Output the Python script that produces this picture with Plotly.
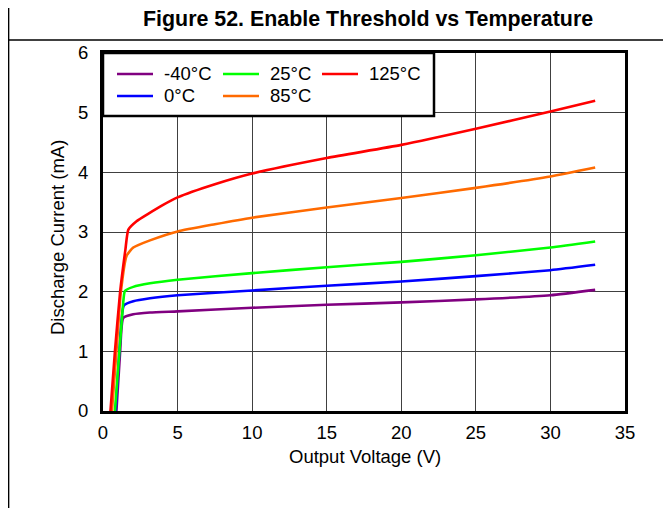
import plotly.graph_objects as go

# ---- data ----
labels = ["-40°C", "0°C", "25°C", "85°C", "125°C"]
colors = ["#800080", "#0000FF", "#00FF00", "#FF6A00", "#FF0000"]

v_m40 = [0.9, 1.15, 1.36, 2.03, 3.15, 5, 10, 15, 20, 25, 30, 33]
i_m40 = [0.0, 1.0, 1.56, 1.62, 1.65, 1.67, 1.73, 1.78, 1.82, 1.87, 1.94, 2.03]

v_0 = [0.85, 1.1, 1.4, 2.03, 3.15, 5, 10, 15, 20, 25, 30, 33]
i_0 = [0.0, 1.0, 1.77, 1.84, 1.89, 1.94, 2.02, 2.10, 2.17, 2.26, 2.36, 2.45]

v_25 = [0.8, 1.1, 1.35, 1.47, 2.03, 3.15, 5, 10, 15, 20, 25, 30, 33]
i_25 = [0.0, 1.0, 1.8, 2.01, 2.08, 2.14, 2.20, 2.31, 2.41, 2.50, 2.61, 2.74, 2.84]

v_85 = [0.6, 0.9, 1.2, 1.58, 2.03, 3.15, 5, 7.5, 10, 15, 20, 25, 30, 33]
i_85 = [0.0, 1.0, 2.0, 2.60, 2.74, 2.86, 3.01, 3.13, 3.24, 3.41, 3.57, 3.74, 3.93, 4.08]

v_125 = [0.5, 0.8, 1.15, 1.5, 1.7, 2.25, 3.0, 4.0, 5, 7.5, 10, 15, 20, 25, 30, 33]
i_125 = [0.0, 1.0, 2.0, 2.7, 3.04, 3.18, 3.30, 3.45, 3.58, 3.80, 3.98, 4.24, 4.46, 4.73, 5.02, 5.20]

series_v = [v_m40, v_0, v_25, v_85, v_125]
series_i = [i_m40, i_0, i_25, i_85, i_125]

x_ticks = [0, 5, 10, 15, 20, 25, 30, 35]
y_ticks = [0, 1, 2, 3, 4, 5, 6]

title_text = "Figure 52. Enable Threshold vs Temperature"
x_title = "Output Voltage (V)"
y_title = "Discharge Current (mA)"

# ---- layout geometry ----
# The page body has an 8px margin, so the figure starts at screen (8, 8).
OFF = 8
SW, SH = 671, 508                 # screen size
W, H = SW - OFF, SH - OFF         # figure size
SL, SR, ST, SB = 103, 625, 53, 411  # plot area in screen pixels


def px(x):
    return (x - SL) / (SR - SL)


def py(y):
    return (SB - y) / (SB - ST)


FONT = "Liberation Sans, Arial, sans-serif"
TXT = 18.5

fig = go.Figure()
for v, i, name, c in zip(series_v, series_i, labels, colors):
    fig.add_trace(go.Scatter(x=v, y=i, mode="lines", name=name,
                             line=dict(color=c, width=2.6, shape="spline", smoothing=0.5),
                             showlegend=False))

shapes = []
annotations = []

# page frame: left border and header separator
shapes.append(dict(type="line", xref="paper", yref="paper",
                   x0=px(8.6), x1=px(SW + 5), y0=py(40), y1=py(40),
                   line=dict(color="black", width=1.5), layer="above"))
shapes.append(dict(type="line", xref="paper", yref="paper",
                   x0=px(8.6), x1=px(8.6), y0=py(0), y1=py(SH + 5),
                   line=dict(color="black", width=1.5), layer="above"))

# legend box
shapes.append(dict(type="rect", xref="paper", yref="paper",
                   x0=px(103), x1=px(434), y0=py(116), y1=py(53),
                   fillcolor="white", line=dict(color="black", width=2.5), layer="above"))

legend_order = [0, 2, 4, 1, 3]
col_line_x = [(117, 153), (223, 259), (322, 358)]
col_text_x = [162, 268, 367]
row_y = [74, 96]
for k, idx in enumerate(legend_order):
    r, cidx = (0, k) if k < 3 else (1, k - 3)
    x0, x1 = col_line_x[cidx]
    shapes.append(dict(type="line", xref="paper", yref="paper",
                       x0=px(x0), x1=px(x1), y0=py(row_y[r]), y1=py(row_y[r]),
                       line=dict(color=colors[idx], width=2.6), layer="above"))
    annotations.append(dict(xref="paper", yref="paper", x=px(col_text_x[cidx]), y=py(row_y[r]),
                            text=labels[idx], showarrow=False, xanchor="left", yanchor="middle",
                            font=dict(family=FONT, size=TXT, color="black")))

# header title
annotations.append(dict(xref="paper", yref="paper", x=px(368), y=py(19),
                        text="<b>" + title_text + "</b>", showarrow=False,
                        xanchor="center", yanchor="middle",
                        font=dict(family=FONT, size=21.4, color="black")))

# axis titles
annotations.append(dict(xref="paper", yref="paper", x=px(365), y=py(456),
                        text=x_title, showarrow=False, xanchor="center", yanchor="middle",
                        font=dict(family=FONT, size=TXT, color="black")))
annotations.append(dict(xref="paper", yref="paper", x=px(58), y=py(238),
                        text=y_title, showarrow=False, xanchor="center", yanchor="middle",
                        textangle=-90,
                        font=dict(family=FONT, size=TXT, color="black")))

fig.update_layout(
    width=W, height=H,
    margin=dict(l=SL - OFF, r=SW - SR, t=ST - OFF, b=SH - SB, pad=0),
    paper_bgcolor="white", plot_bgcolor="white",
    font=dict(family=FONT, size=TXT, color="black"),
    shapes=shapes, annotations=annotations,
    showlegend=False,
)

fig.update_xaxes(range=[0, 35], tickvals=x_ticks, ticktext=[str(t) for t in x_ticks],
                 showgrid=True, gridcolor="#404040", gridwidth=1, automargin=False,
                 zeroline=False, showline=True, linecolor="black", linewidth=3, mirror=True,
                 ticks="", ticklabelstandoff=3,
                 tickfont=dict(size=TXT))
fig.update_yaxes(range=[0, 6], tickvals=y_ticks, ticktext=[str(t) for t in y_ticks],
                 showgrid=True, gridcolor="#404040", gridwidth=1, automargin=False,
                 zeroline=False, showline=True, linecolor="black", linewidth=3, mirror=True,
                 ticks="", ticklabelstandoff=8,
                 tickfont=dict(size=TXT))

fig.write_html("out.html")
